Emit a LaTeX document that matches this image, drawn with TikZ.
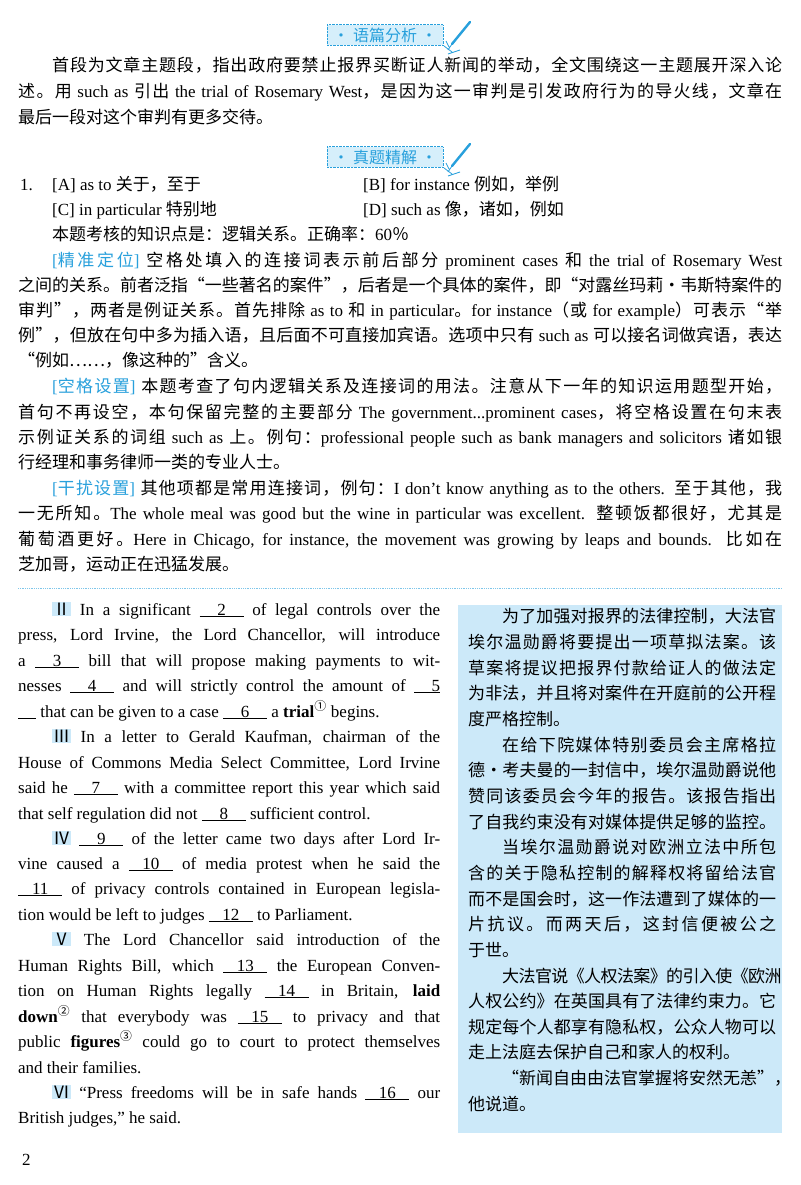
\documentclass[tikz,border=0pt]{standalone}
\usepackage{fontspec}
\setmainfont{Liberation Serif}[Ligatures=TeX]
\newfontfamily\cjk{Noto Sans CJK SC}[Scale=1.0]
\XeTeXinterchartokenstate=1
\newXeTeXintercharclass\cjkc
\newcount\cc
\def\setrange#1#2{\cc=#1\relax\loop\XeTeXcharclass\cc=\cjkc\advance\cc1 \ifnum\cc<#2\repeat}
\setrange{"4E00}{"A000}
\setrange{"3000}{"3040}
\setrange{"FF00}{"FFF0}
\XeTeXcharclass"201C=\cjkc \XeTeXcharclass"201D=\cjkc
\XeTeXcharclass"2026=\cjkc \XeTeXcharclass"00B7=\cjkc
\XeTeXinterchartoks 0 \cjkc = {\cjk}
\XeTeXinterchartoks 4095 \cjkc = {\cjk}
\XeTeXinterchartoks \cjkc 0 = {\rmfamily}
\XeTeXinterchartoks \cjkc 4095 = {\rmfamily}
\XeTeXinterchartoks \cjkc \cjkc = {\hskip0pt plus 2pt minus 0.6pt}
\definecolor{hl}{RGB}{40,160,220}
\definecolor{boxfill}{RGB}{204,233,249}
\definecolor{badgefill}{RGB}{214,239,251}
\newcommand\blank[2][44]{\underline{\makebox[#1pt]{#2}}}
\newcommand\rn[1]{{\setlength\fboxsep{1pt}\colorbox{boxfill}{\cjk #1}}}
\newcommand\cir[1]{\textsuperscript{\cjk #1}}
\newcommand\J[2]{\makebox[#1pt][s]{#2}}
\tikzset{ln/.style={anchor=base west,inner sep=0pt,font=\fontsize{17}{17}\selectfont},
badge/.style={draw=hl,densely dotted,fill=badgefill,inner xsep=6pt,inner ysep=3pt,text=hl,font=\fontsize{16}{16}\selectfont\cjk},
pen/.style={hl,line width=2.4pt,line cap=round}}
\begin{document}
\begin{tikzpicture}[x=1pt,y=-1pt]
\useasboundingbox (0,0) rectangle (800,1185);
\fill[white] (0,0) rectangle (800,1185);
% badge 1
\node[badge] (b1) at (385,35) {· 语篇分析 ·};
\draw[pen] (452,44) -- (470,22);
\draw[hl,line width=0.8pt] (452,44) -- (448,50) (444,46)--(452,52) (448,54)--(460,50) (446,41)--(449,47);
\node[ln] (t1) at (52,72) {\J{730}{首段为文章主题段，指出政府要禁止报界买断证人新闻的举动，全文围绕这一主题展开深入论}};
\node[ln] (t2) at (18,98) {\J{764}{述。用 such as 引出 the trial of Rosemary West，是因为这一审判是引发政府行为的导火线，文章在}};
\node[ln] (t3) at (18,124) {最后一段对这个审判有更多交待。};
% badge 2
\node[badge] (b2) at (385,157) {· 真题精解 ·};
\draw[pen] (452,166) -- (470,144);
\draw[hl,line width=0.8pt] (452,166) -- (448,172) (444,168)--(452,174) (448,176)--(460,172) (446,163)--(449,169);
\node[ln] (q1) at (20,190) {1.};
\node[ln] (qa) at (52,190) {[A] as to 关于，至于};
\node[ln] (qb) at (363,190) {[B] for instance 例如，举例};
\node[ln] (qc) at (52,215) {[C] in particular 特别地};
\node[ln] (qd) at (363,215) {[D] such as 像，诸如，例如};
\node[ln] (qe) at (52,240) {本题考核的知识点是：逻辑关系。正确率：60％};
\node[ln] (j1) at (52,266) {\J{730}{\textcolor{hl}{[精准定位]} 空格处填入的连接词表示前后部分 prominent cases 和 the trial of Rosemary West}};
\node[ln] (j2) at (18,291) {\J{764}{之间的关系。前者泛指“一些著名的案件”，后者是一个具体的案件，即“对露丝玛莉·韦斯特案件的}};
\node[ln] (j3) at (18,316) {\J{764}{审判”，两者是例证关系。首先排除 as to 和 in particular。for instance（或 for example）可表示“举}};
\node[ln] (j4) at (18,341) {\J{764}{例”，但放在句中多为插入语，且后面不可直接加宾语。选项中只有 such as 可以接名词做宾语，表达}};
\node[ln] (j5) at (18,366) {“例如……，像这种的”含义。};
\node[ln] (k1) at (52,392) {\J{730}{\textcolor{hl}{[空格设置]} 本题考查了句内逻辑关系及连接词的用法。注意从下一年的知识运用题型开始，}};
\node[ln] (k2) at (18,418) {\J{764}{首句不再设空，本句保留完整的主要部分 The government...prominent cases，将空格设置在句末表}};
\node[ln] (k3) at (18,443) {\J{764}{示例证关系的词组 such as 上。例句：professional people such as bank managers and solicitors 诸如银}};
\node[ln] (k4) at (18,468) {行经理和事务律师一类的专业人士。};
\node[ln] (g1) at (52,494) {\J{730}{\textcolor{hl}{[干扰设置]} 其他项都是常用连接词，例句：I don't know anything as to the others. 至于其他，我}};
\node[ln] (g2) at (18,519) {\J{764}{一无所知。The whole meal was good but the wine in particular was excellent. 整顿饭都很好，尤其是}};
\node[ln] (g3) at (18,545) {\J{764}{葡萄酒更好。Here in Chicago, for instance, the movement was growing by leaps and bounds. 比如在}};
\node[ln] (g4) at (18,570) {芝加哥，运动正在迅猛发展。};
\draw[hl!60,densely dotted,line width=0.8pt] (18,588) -- (782,588);
% right box
\fill[boxfill] (458,605) rectangle (782,1133);
% left column
\node[ln] (l1) at (52,615) {\J{388}{\rn{Ⅱ} In a significant \blank{2} of legal controls over the}};
\node[ln] (l2) at (18,640) {\J{422}{press, Lord Irvine, the Lord Chancellor, will introduce}};
\node[ln] (l3) at (18,666) {\J{422}{a \blank{3} bill that will propose making payments to wit-}};
\node[ln] (l4) at (18,691) {\J{422}{nesses \blank{4} and will strictly control the amount of \blank[26]{\hfill5}}};
\node[ln] (l5) at (18,717) {\blank[18]{} that can be given to a case \blank{6} a \textbf{trial}\cir{①} begins.};
\node[ln] (l6) at (52,742) {\J{388}{\rn{Ⅲ} In a letter to Gerald Kaufman, chairman of the}};
\node[ln] (l7) at (18,768) {\J{422}{House of Commons Media Select Committee, Lord Irvine}};
\node[ln] (l8) at (18,793) {\J{422}{said he \blank{7} with a committee report this year which said}};
\node[ln] (l9) at (18,819) {that self regulation did not \blank{8} sufficient control.};
\node[ln] (l10) at (52,844) {\J{388}{\rn{Ⅳ} \blank{9} of the letter came two days after Lord Ir-}};
\node[ln] (l11) at (18,869) {\J{422}{vine caused a \blank{10} of media protest when he said the}};
\node[ln] (l12) at (18,894) {\J{422}{\blank{11} of privacy controls contained in European legisla-}};
\node[ln] (l13) at (18,920) {tion would be left to judges \blank{12} to Parliament.};
\node[ln] (l14) at (52,945) {\J{388}{\rn{Ⅴ} The Lord Chancellor said introduction of the}};
\node[ln] (l15) at (18,971) {\J{422}{Human Rights Bill, which \blank{13} the European Conven-}};
\node[ln] (l16) at (18,996) {\J{422}{tion on Human Rights legally \blank{14} in Britain, \textbf{laid}}};
\node[ln] (l17) at (18,1022) {\J{422}{\textbf{down}\cir{②} that everybody was \blank{15} to privacy and that}};
\node[ln] (l18) at (18,1047) {\J{422}{public \textbf{figures}\cir{③} could go to court to protect themselves}};
\node[ln] (l19) at (18,1073) {and their families.};
\node[ln] (l20) at (52,1098) {\J{388}{\rn{Ⅵ} ``Press freedoms will be in safe hands \blank{16} our}};
\node[ln] (l21) at (18,1123) {British judges,'' he said.};
% right column
\node[ln] (r1) at (502,622) {\J{274}{为了加强对报界的法律控制，大法官}};
\node[ln] (r2) at (468,648) {\J{308}{埃尔温勋爵将要提出一项草拟法案。该}};
\node[ln] (r3) at (468,674) {\J{308}{草案将提议把报界付款给证人的做法定}};
\node[ln] (r4) at (468,699) {\J{308}{为非法，并且将对案件在开庭前的公开程}};
\node[ln] (r5) at (468,725) {度严格控制。};
\node[ln] (r6) at (502,751) {\J{274}{在给下院媒体特别委员会主席格拉}};
\node[ln] (r7) at (468,776) {\J{308}{德·考夫曼的一封信中，埃尔温勋爵说他}};
\node[ln] (r8) at (468,802) {\J{308}{赞同该委员会今年的报告。该报告指出}};
\node[ln] (r9) at (468,828) {\J{308}{了自我约束没有对媒体提供足够的监控。}};
\node[ln] (r10) at (502,853) {\J{274}{当埃尔温勋爵说对欧洲立法中所包}};
\node[ln] (r11) at (468,879) {\J{308}{含的关于隐私控制的解释权将留给法官}};
\node[ln] (r12) at (468,905) {\J{308}{而不是国会时，这一作法遭到了媒体的一}};
\node[ln] (r13) at (468,930) {\J{308}{片抗议。而两天后，这封信便被公之}};
\node[ln] (r14) at (468,956) {于世。};
\node[ln] (r15) at (502,982) {\J{274}{大法官说《人权法案》的引入使《欧洲}};
\node[ln] (r16) at (468,1007) {\J{308}{人权公约》在英国具有了法律约束力。它}};
\node[ln] (r17) at (468,1033) {\J{308}{规定每个人都享有隐私权，公众人物可以}};
\node[ln] (r18) at (468,1058) {走上法庭去保护自己和家人的权利。};
\node[ln] (r19) at (502,1084) {“新闻自由由法官掌握将安然无恙”，};
\node[ln] (r20) at (468,1110) {他说道。};
\node[ln] (pg) at (22,1165) {2};
\end{tikzpicture}
\end{document}
